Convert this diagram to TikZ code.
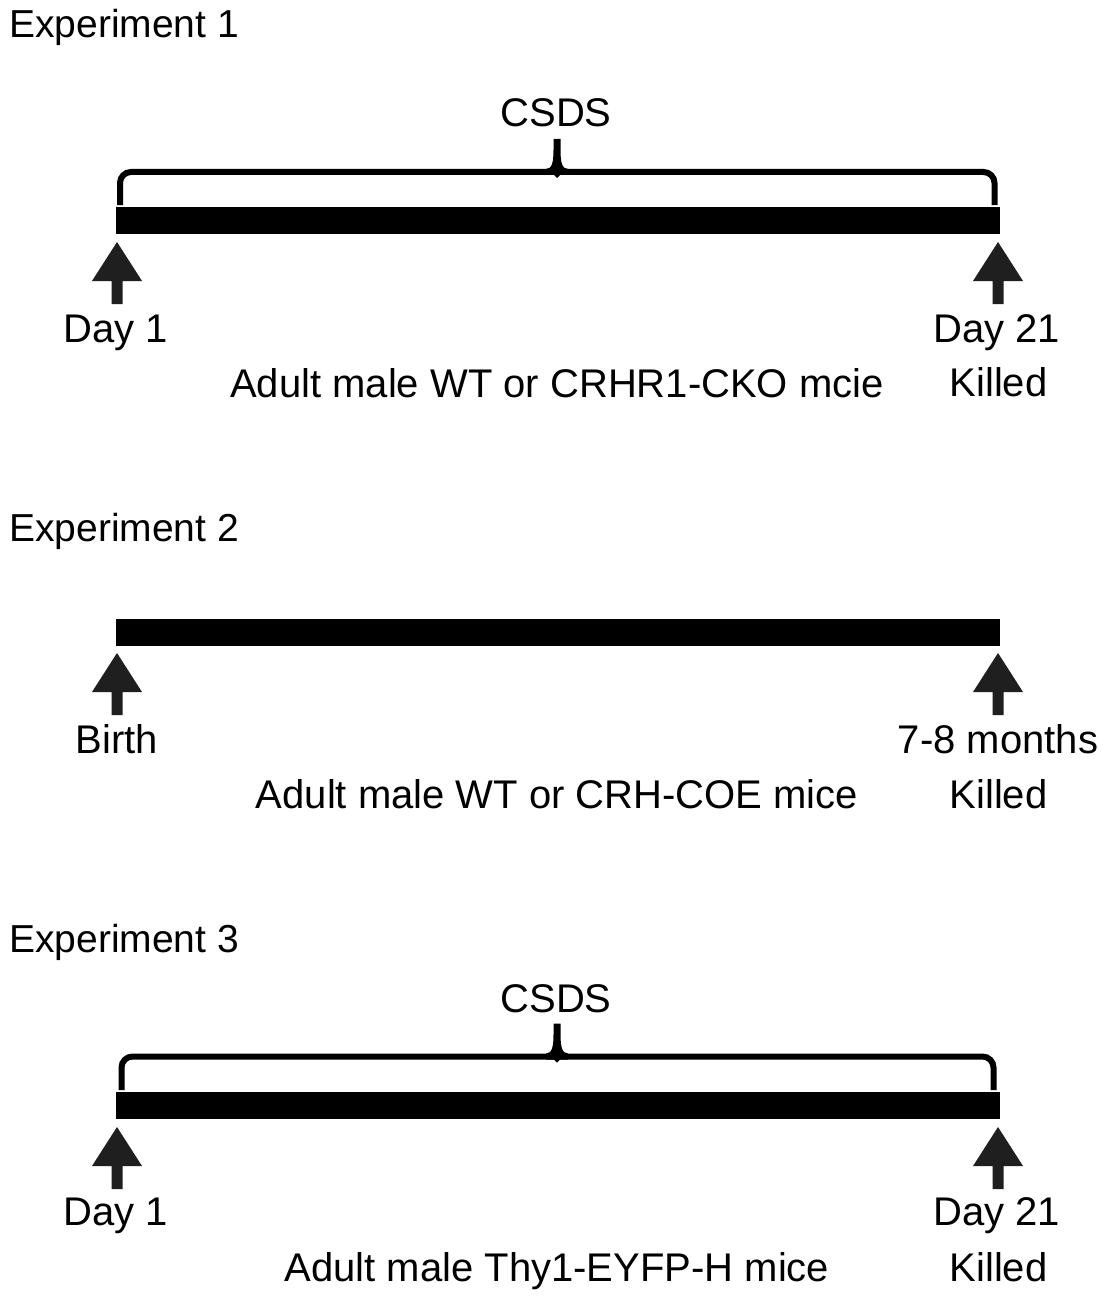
\documentclass[tikz,border=0pt]{standalone}
\usepackage{fontspec}
\setmainfont{Liberation Sans}
\begin{document}
\begin{tikzpicture}[x=1pt,y=-1pt,
  lbl/.style={inner sep=0pt,anchor=base,font=\fontsize{40}{48}\selectfont},
  title/.style={inner sep=0pt,anchor=base west,font=\fontsize{39}{47}\selectfont},
  barfill/.style={fill=black},
  arrowc/.style={fill=black!88},
  bracestyle/.style={line width=6pt,rounded corners=11pt},
  uparr/.pic={\fill[arrowc] (0,0) -- (25,39) -- (5.5,39) -- (5.5,62) -- (-5.5,62) -- (-5.5,39) -- (-25,39) -- cycle;},
  bracetip/.pic={\fill (-11,-3) .. controls (-5,-3) and (-3.5,-10) .. (-3.5,-22) -- (-3.5,-33) -- (3.5,-33) -- (3.5,-22) .. controls (3.5,-10) and (5,-3) .. (11,-3) -- (11,3) -- (3,3) -- (0,6) -- (-3,3) -- (-11,3) -- cycle;}
]
\useasboundingbox (0,0) rectangle (1107,1300);
\fill[white] (0,0) rectangle (1107,1300);

% ---------- Experiment 1 ----------
\node[title] (t1) at (9,37.3) {Experiment 1};
\node[lbl] (csds1) at (556,127) {CSDS};
\draw[bracestyle] (120,205) -- (120,172) -- (994.5,172) -- (994.5,205);
\pic at (557,172) {bracetip};
\fill[barfill] (116,207) rectangle (1000,234);
\pic at (117,242) {uparr};
\pic at (998,242) {uparr};
\node[lbl] (d1a) at (116,342) {Day 1};
\node[lbl] (d21a) at (996.5,342) {Day 21};
\node[lbl] (m1) at (557,397) {Adult male WT or CRHR1-CKO mcie};
\node[lbl] (k1) at (998.5,396) {Killed};

% ---------- Experiment 2 ----------
\node[title] (t2) at (9,541.7) {Experiment 2};
\fill[barfill] (116,619) rectangle (1000,645.5);
\pic at (117,653) {uparr};
\pic at (998,653) {uparr};
\node[lbl] (b2) at (117,753) {Birth};
\node[lbl] (mo2) at (998,753) {7-8 months};
\node[lbl] (m2) at (557,808) {Adult male WT or CRH-COE mice};
\node[lbl] (k2) at (998.5,808) {Killed};

% ---------- Experiment 3 ----------
\node[title] (t3) at (9,952) {Experiment 3};
\node[lbl] (csds3) at (556,1012) {CSDS};
\draw[bracestyle] (121.5,1090) -- (121.5,1056.5) -- (993.5,1056.5) -- (993.5,1090);
\pic at (557,1056.5) {bracetip};
\fill[barfill] (116,1092) rectangle (1000,1119);
\pic at (117,1127) {uparr};
\pic at (998,1127) {uparr};
\node[lbl] (d1c) at (116,1225.7) {Day 1};
\node[lbl] (d21c) at (996.5,1225.7) {Day 21};
\node[lbl] (m3) at (557,1281) {Adult male Thy1-EYFP-H mice};
\node[lbl] (k3) at (998.5,1281) {Killed};
\end{tikzpicture}
\end{document}
